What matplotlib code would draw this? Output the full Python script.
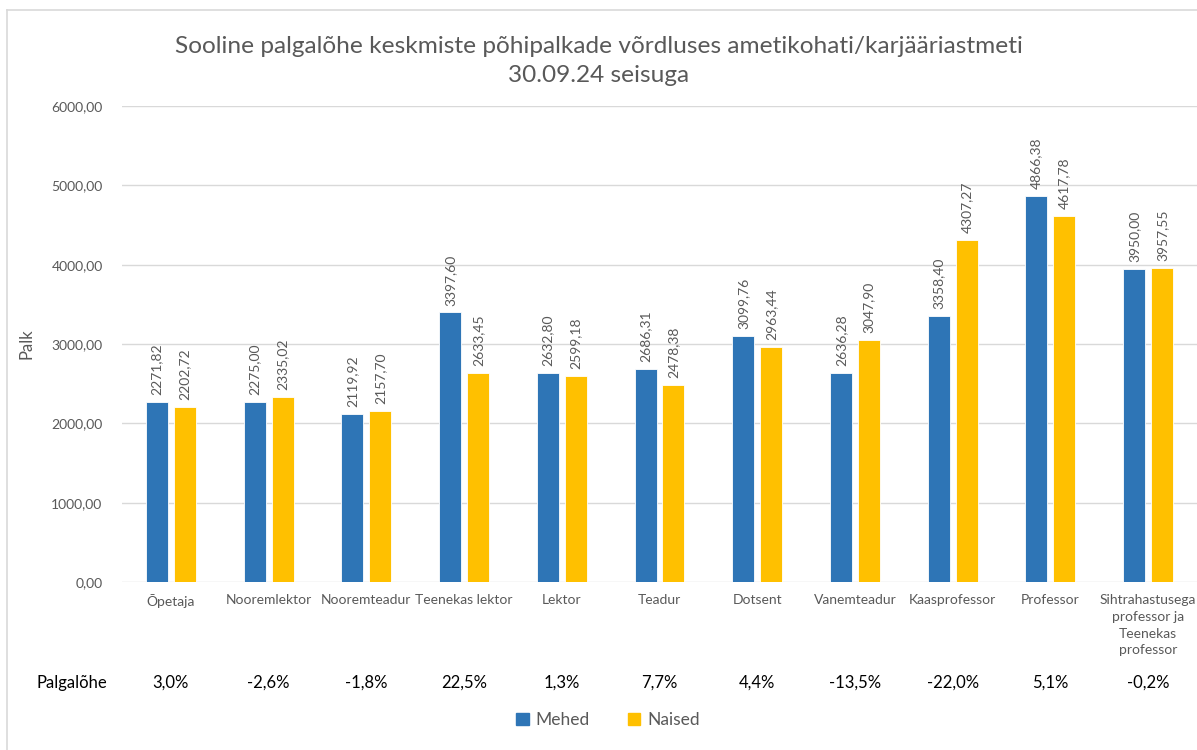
import numpy as np
import matplotlib
matplotlib.use("Agg")
import matplotlib.pyplot as plt
import matplotlib.ticker as mticker
from matplotlib.lines import Line2D
from matplotlib.patches import Patch

# --- chart data ---
categories = ["Õpetaja", "Nooremlektor", "Nooremteadur", "Teenekas lektor", "Lektor",
              "Teadur", "Dotsent", "Vanemteadur", "Kaasprofessor", "Professor",
              "Sihtrahastusega\nprofessor ja\nTeenekas\nprofessor"]
mehed = [2271.82, 2275.00, 2119.92, 3397.60, 2632.80, 2686.31, 3099.76, 2636.28, 3358.40, 4866.38, 3950.00]
naised = [2202.72, 2335.02, 2157.70, 2633.45, 2599.18, 2478.38, 2963.44, 3047.90, 4307.27, 4617.78, 3957.55]
palgalohe = ["3,0%", "-2,6%", "-1,8%", "22,5%", "1,3%", "7,7%", "4,4%", "-13,5%", "-22,0%", "5,1%", "-0,2%"]
y_ticks = [0, 1000, 2000, 3000, 4000, 5000, 6000]

BLUE = "#2E75B6"
YELLOW = "#FFC000"
GRAY = "#595959"

plt.rcParams['font.family'] = ['Lato', 'DejaVu Sans']

fig = plt.figure(figsize=(11.97, 7.5), dpi=100)
ax = fig.add_axes([122 / 1197, 1 - 582 / 750, 1 - 122 / 1197, (582 - 106) / 750])

x = np.arange(len(categories))
w = 0.225
off = 0.143
b1 = ax.bar(x - off, mehed, w, color=BLUE, edgecolor="white", linewidth=0.6, zorder=3)
b2 = ax.bar(x + off, naised, w, color=YELLOW, edgecolor="white", linewidth=0.6, zorder=3)

def fmt(v):
    return f"{v:.2f}".replace(".", ",")

for bars, vals in ((b1, mehed), (b2, naised)):
    for bar, v in zip(bars, vals):
        ax.annotate(fmt(v), (bar.get_x() + bar.get_width() / 2, v),
                    xytext=(0, 5), textcoords="offset points",
                    rotation=90, ha="center", va="bottom", fontsize=10, color=GRAY)

ax.set_xlim(-0.5, len(categories) - 0.5)
ax.set_ylim(0, 6000)
ax.set_yticks(y_ticks)
ax.yaxis.set_major_formatter(mticker.FuncFormatter(lambda v, p: fmt(v)))
ax.tick_params(axis="y", length=0, pad=14, labelsize=10, labelcolor=GRAY)
ax.set_xticks(x)
ax.set_xticklabels(categories, fontsize=10, color=GRAY, linespacing=1.45)
ax.tick_params(axis="x", length=0, pad=9)
ax.grid(axis="y", color="#D9D9D9", linewidth=1, zorder=0)
for s in ax.spines.values():
    s.set_visible(False)
ax.set_ylabel("Palk", fontsize=12, color=GRAY, labelpad=12)

# pay gap row
trans = matplotlib.transforms.blended_transform_factory(ax.transData, fig.transFigure)
for xi, t in zip(x, palgalohe):
    ax.text(xi, 1 - 683 / 750, t, transform=trans, ha="center", va="center",
            fontsize=12, color="black")
fig.text(36 / 1197, 1 - 683 / 750, "Palgalõhe", ha="left", va="center", fontsize=12, color="black")

fig.suptitle("Sooline palgalõhe keskmiste põhipalkade võrdluses ametikohati/karjääriastmeti\n30.09.24 seisuga",
             x=0.5, y=1 - 36 / 750, va="top", fontsize=17.6, color=GRAY, linespacing=1.45)

handles = [Patch(color=BLUE, label="Mehed"), Patch(color=YELLOW, label="Naised")]
fig.legend(handles=handles, loc="center", bbox_to_anchor=(608 / 1197, 1 - 720 / 750), ncol=2,
           frameon=False, fontsize=12.5, labelcolor=GRAY, handlelength=0.7, handleheight=0.7,
           handletextpad=0.4, columnspacing=2.2)

# outer chart frame (left and top edges visible)
fig.add_artist(Line2D([7 / 1197, 7 / 1197], [0, 1 - 10 / 750], transform=fig.transFigure,
                      color="#D9D9D9", linewidth=1.2))
fig.add_artist(Line2D([7 / 1197, 1], [1 - 10 / 750, 1 - 10 / 750], transform=fig.transFigure,
                      color="#D9D9D9", linewidth=1.2))

fig.savefig("out.png", dpi=100)
